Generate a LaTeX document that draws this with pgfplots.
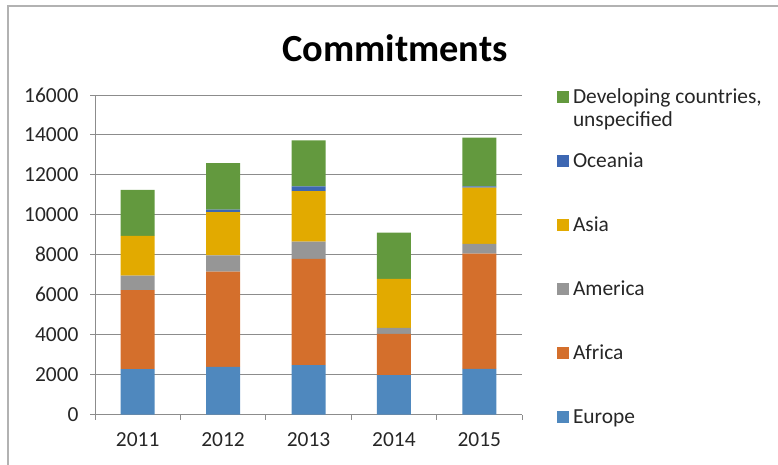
\documentclass[border=0pt]{standalone}
\usepackage{pgfplots}
\pgfplotsset{compat=1.18}
\usepackage{fontspec}
\setmainfont{Carlito}
\definecolor{ceu}{HTML}{4F88BE}
\definecolor{caf}{HTML}{D46F2C}
\definecolor{cam}{HTML}{969696}
\definecolor{cas}{HTML}{E2AA00}
\definecolor{coc}{HTML}{3D67B2}
\definecolor{cdv}{HTML}{63993E}
\definecolor{gridc}{HTML}{8C8C8C}
\definecolor{txt}{HTML}{262626}
\pgfplotsset{sq/.style={legend image code/.code={\fill[##1] (0bp,0bp) rectangle (12bp,12bp);}}}
\begin{document}
\begin{tikzpicture}
\path[use as bounding box] (0bp,0bp) rectangle (778bp,465bp);
\draw[color=black!30, line width=1.5bp] (8bp,0bp) -- (8bp,459bp) -- (778bp,459bp);
\node[font=\fontsize{38.5}{42}\selectfont\bfseries, text=black] at (395bp,417bp) {Commitments};
\begin{axis}[
  at={(95bp,50.5bp)}, anchor=south west,
  scale only axis, width=427bp, height=319.5bp,
  ybar stacked, bar width=34bp,
  xmin=-0.5, xmax=4.5, ymin=0, ymax=16000,
  ytick={0,2000,...,16000},
  xtick={-0.5,0.5,...,4.5}, x tick label as interval,
  xticklabels={2011,2012,2013,2014,2015},
  axis lines*=left,
  ymajorgrids,
  grid style={color=gridc, line width=0.9bp},
  axis line style={color=gridc, line width=0.9bp},
  tick style={color=gridc, line width=0.9bp},
  tick align=outside, major tick length=5bp,
  ticklabel style={font=\fontsize{21.5}{25}\selectfont, text=txt},
  x tick label style={yshift=-10bp},
  y tick label style={xshift=-8bp, /pgf/number format/1000 sep={}},
  /pgf/number format/assume math mode=true,
  scaled y ticks=false,
  reverse legend,
  legend style={draw=none, fill=none, inner sep=0pt, outer sep=0pt,
    at={(1,1)}, anchor=north west, xshift=35bp, yshift=6bp,
    font=\fontsize{21.5}{24}\selectfont, row sep=50bp, column sep=4bp,
    cells={anchor=base west},
    nodes={inner sep=0pt, text height=14bp, text depth=0bp, text=txt}},
]
\addplot[fill=ceu, draw=none, sq] coordinates {(0,2270) (1,2380) (2,2470) (3,1970) (4,2280)};
\addlegendentry{Europe}
\addplot[fill=caf, draw=none, sq] coordinates {(0,3960) (1,4770) (2,5320) (3,2070) (4,5780)};
\addlegendentry{Africa}
\addplot[fill=cam, draw=none, sq] coordinates {(0,720) (1,820) (2,870) (3,300) (4,480)};
\addlegendentry{America}
\addplot[fill=cas, draw=none, sq] coordinates {(0,2000) (1,2170) (2,2520) (3,2450) (4,2820)};
\addlegendentry{Asia}
\addplot[fill=coc, draw=none, sq] coordinates {(0,0) (1,120) (2,250) (3,0) (4,70)};
\addlegendentry{Oceania}
\addplot[fill=cdv, draw=none, sq] coordinates {(0,2300) (1,2330) (2,2300) (3,2320) (4,2430)};
\addlegendentry{\begin{tabular}[t]{@{}l@{}}Developing countries,\\unspecified\end{tabular}}
\end{axis}
\end{tikzpicture}
\end{document}
